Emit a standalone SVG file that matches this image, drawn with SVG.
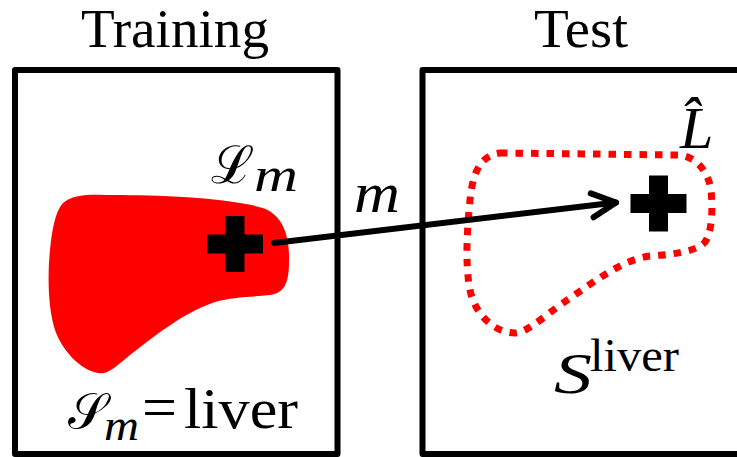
<svg xmlns="http://www.w3.org/2000/svg" width="737" height="457" viewBox="0 0 737 457">
<style>
.box{fill:none;stroke:#000;stroke-width:6;stroke-linejoin:round}
.serif{font-family:"Liberation Serif","Times New Roman",serif;fill:#000}
.it{font-style:italic}
</style>
<defs>
<marker id="arr" viewBox="-30 -16 34 32" markerWidth="34" markerHeight="32" refX="0" refY="0" orient="auto" markerUnits="userSpaceOnUse">
<path d="M -24,-12 L 0,0 L -24,12" fill="none" stroke="#000" stroke-width="6" stroke-linecap="round" stroke-linejoin="round"/>
</marker>
<path id="plus" d="M -9.5,-28 h 19 v 18.5 h 18.5 v 19 h -18.5 v 18.5 h -19 v -18.5 h -18.5 v -19 h 18.5 Z" fill="#000"/>
</defs>
<rect width="737" height="457" fill="#fff"/>
<g id="training">
<text class="serif" x="175" y="47" font-size="54" text-anchor="middle" textLength="188" lengthAdjust="spacingAndGlyphs">Training</text>
<rect class="box" x="15" y="70" width="322.5" height="384"/>
<path id="liver-train" d="M 63,203 C 75,192 100,195 113,195 C 160,195 230,198 263,208 C 285,216 290,240 289,262 C 289,282 285,293 270,295 C 250,297 232,297 215,302 C 180,314 150,340 130,355 C 115,367 108,375 98,373 C 80,370 62,350 55,330 C 47,305 48,270 50,250 C 52,230 55,212 63,203 Z" fill="#ff0000"/>
<use href="#plus" x="235" y="244"/>
<text class="serif" x="211" y="183" font-size="52">ℒ</text>
<text class="serif it" x="254" y="191" font-size="48" textLength="44" lengthAdjust="spacingAndGlyphs">m</text>
<text class="serif" x="68" y="428" font-size="50">𝒮</text>
<text class="serif it" x="104" y="440" font-size="44" textLength="35" lengthAdjust="spacingAndGlyphs">m</text>
<text class="serif" x="142" y="428" font-size="62">=</text>
<text class="serif" x="184" y="428" font-size="58" textLength="114" lengthAdjust="spacingAndGlyphs">liver</text>
</g>
<g id="test">
<text class="serif" x="581" y="47" font-size="54" text-anchor="middle" textLength="94" lengthAdjust="spacingAndGlyphs">Test</text>
<rect class="box" x="422.5" y="70" width="322.5" height="384"/>
<path id="liver-test" d="M 500,153 L 680,155 C 695,157 708,170 711,190 C 713,210 712,232 705,242 C 698,250 680,254 650,256 C 620,260 590,285 560,305 C 540,320 525,333 515,333 C 495,333 475,315 470,290 C 465,265 467,230 470,200 C 473,170 482,155 500,153 Z" fill="none" stroke="#ff0000" stroke-width="7" stroke-dasharray="7.5 8"/>
<use href="#plus" x="658.5" y="203.5"/>
<text class="serif it" x="680" y="148" font-size="60">L̂</text>
<text class="serif it" x="554" y="393" font-size="58" textLength="38" lengthAdjust="spacingAndGlyphs">S</text>
<text class="serif" x="590" y="371" font-size="47" textLength="89" lengthAdjust="spacingAndGlyphs">liver</text>
</g>
<g id="connectors">
<line x1="274" y1="243" x2="616" y2="202.5" stroke="#000" stroke-width="6" stroke-linecap="round" marker-end="url(#arr)"/>
<text class="serif it" x="354" y="212" font-size="58" textLength="46" lengthAdjust="spacingAndGlyphs">m</text>
</g>
</svg>
